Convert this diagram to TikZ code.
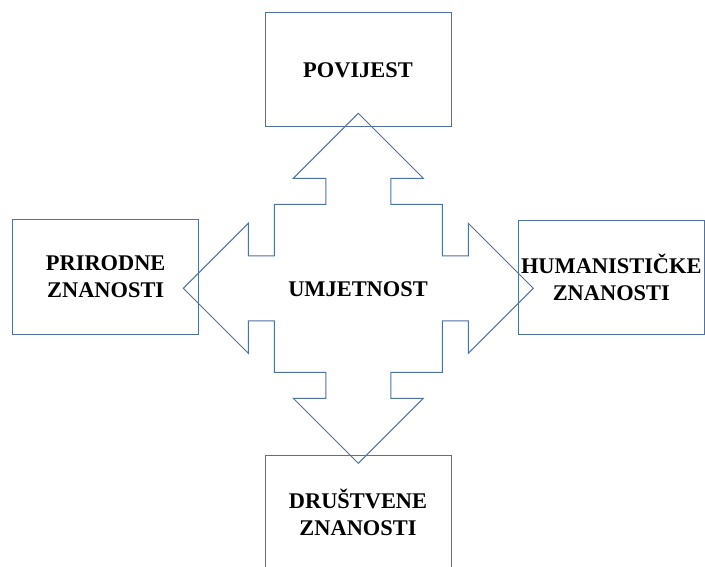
\documentclass[tikz,border=0pt]{standalone}
\usepackage{fontspec}
\setmainfont{Liberation Serif}
\definecolor{boxblue}{RGB}{79,114,163}
\begin{document}
\begin{tikzpicture}[x=1pt, y=-1pt,
  every node/.style = {align=center, font=\fontsize{22.4}{27}\selectfont\bfseries},
  field/.style = {shape=rectangle, draw=boxblue, line width=1pt,
    minimum width=186pt, minimum height=114pt, inner sep=0pt},
  quadarrow/.style = {draw=boxblue, line width=1pt, line join=miter}]
  \useasboundingbox (0,0) rectangle (705,567);
  \node[field] (povijest) at (358,70) {POVIJEST};
  \node[field] (prirodne) at (105.7,277) {PRIRODNE\\ZNANOSTI};
  \node[field] (humanisticke) at (611.3,277.5) {HUMANISTIČKE\\ZNANOSTI};
  \node[field] (drustvene) at (358,512.7) {DRUŠTVENE\\ZNANOSTI};
  \node (umjetnost) at (358,289) {UMJETNOST};
  % four-way arrow round the centre
  \begin{scope}[shift={(358.3,288.3)}]
    \draw[quadarrow] (0,-175)
      \foreach \r in {0,-90,-180,-270} {
        -- ([rotate=\r]65,-110) -- ([rotate=\r]32.5,-110) -- ([rotate=\r]32.5,-84)
        -- ([rotate=\r]84,-84) -- ([rotate=\r]84,-32.5) -- ([rotate=\r]110,-32.5)
        -- ([rotate=\r]110,-65) -- ([rotate=\r]175,0)
      } -- cycle;
  \end{scope}
\end{tikzpicture}
\end{document}
